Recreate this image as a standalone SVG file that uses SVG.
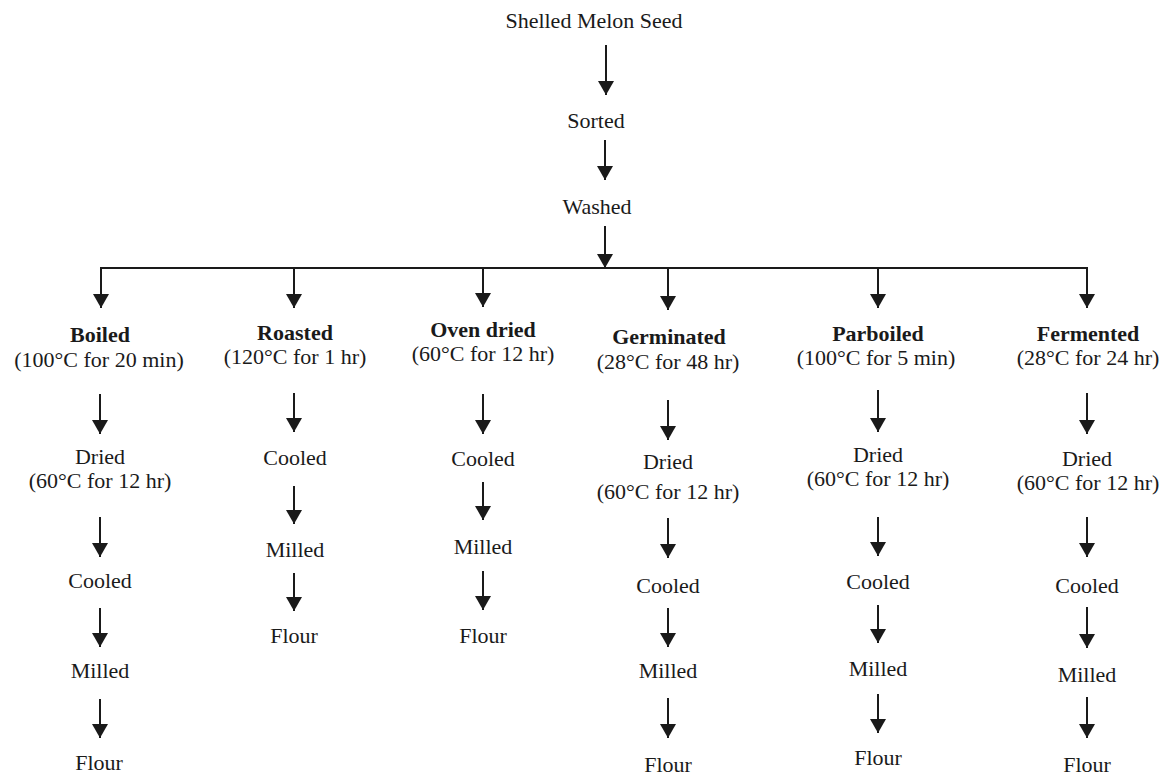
<svg xmlns="http://www.w3.org/2000/svg" width="1167" height="775" viewBox="0 0 1167 775">
<style>
text{font-family:"Liberation Serif","Times New Roman",serif;font-size:22px;fill:#1a1a1a;text-anchor:middle}
.b{font-weight:bold}
.c{stroke:#1a1a1a;stroke-width:2;fill:none}
</style>
<defs>
<marker id="ah" viewBox="0 0 14 16" refX="14" refY="8" markerWidth="14" markerHeight="16" markerUnits="userSpaceOnUse" orient="auto">
<path d="M0,0 L14,8 L0,16 z" fill="#1a1a1a"/>
</marker>
</defs>
<rect width="1167" height="775" fill="#fff"/>
<g id="connectors">
<line class="c" x1="606" y1="45" x2="606" y2="95" marker-end="url(#ah)"/>
<line class="c" x1="605" y1="140" x2="605" y2="180" marker-end="url(#ah)"/>
<line class="c" x1="605" y1="226" x2="605" y2="268" marker-end="url(#ah)"/>
<line class="c" x1="100" y1="268" x2="1088" y2="268"/>
<line class="c" x1="101" y1="268" x2="101" y2="308" marker-end="url(#ah)"/>
<line class="c" x1="294" y1="268" x2="294" y2="308" marker-end="url(#ah)"/>
<line class="c" x1="483" y1="268" x2="483" y2="307" marker-end="url(#ah)"/>
<line class="c" x1="668" y1="268" x2="668" y2="310" marker-end="url(#ah)"/>
<line class="c" x1="878" y1="268" x2="878" y2="308" marker-end="url(#ah)"/>
<line class="c" x1="1087" y1="268" x2="1087" y2="308" marker-end="url(#ah)"/>
<!-- Boiled column -->
<line class="c" x1="100" y1="394" x2="100" y2="434" marker-end="url(#ah)"/>
<line class="c" x1="100" y1="517" x2="100" y2="557" marker-end="url(#ah)"/>
<line class="c" x1="100" y1="608" x2="100" y2="647" marker-end="url(#ah)"/>
<line class="c" x1="100" y1="699" x2="100" y2="738" marker-end="url(#ah)"/>
<!-- Roasted column -->
<line class="c" x1="294" y1="393" x2="294" y2="432" marker-end="url(#ah)"/>
<line class="c" x1="294" y1="486" x2="294" y2="524" marker-end="url(#ah)"/>
<line class="c" x1="294" y1="573" x2="294" y2="611" marker-end="url(#ah)"/>
<!-- Oven dried column -->
<line class="c" x1="483" y1="394" x2="483" y2="434" marker-end="url(#ah)"/>
<line class="c" x1="483" y1="482" x2="483" y2="520" marker-end="url(#ah)"/>
<line class="c" x1="483" y1="571" x2="483" y2="610" marker-end="url(#ah)"/>
<!-- Germinated column -->
<line class="c" x1="668" y1="400" x2="668" y2="440" marker-end="url(#ah)"/>
<line class="c" x1="668" y1="518" x2="668" y2="558" marker-end="url(#ah)"/>
<line class="c" x1="668" y1="608" x2="668" y2="647" marker-end="url(#ah)"/>
<line class="c" x1="668" y1="698" x2="668" y2="738" marker-end="url(#ah)"/>
<!-- Parboiled column -->
<line class="c" x1="878" y1="390" x2="878" y2="432" marker-end="url(#ah)"/>
<line class="c" x1="878" y1="517" x2="878" y2="556" marker-end="url(#ah)"/>
<line class="c" x1="878" y1="605" x2="878" y2="643" marker-end="url(#ah)"/>
<line class="c" x1="878" y1="694" x2="878" y2="733" marker-end="url(#ah)"/>
<!-- Fermented column -->
<line class="c" x1="1087" y1="393" x2="1087" y2="434" marker-end="url(#ah)"/>
<line class="c" x1="1087" y1="517" x2="1087" y2="557" marker-end="url(#ah)"/>
<line class="c" x1="1087" y1="607" x2="1087" y2="648" marker-end="url(#ah)"/>
<line class="c" x1="1087" y1="697" x2="1087" y2="738" marker-end="url(#ah)"/>
</g>
<g id="n-shelled"><text x="594" y="28">Shelled Melon Seed</text></g>
<g id="n-sorted"><text x="596" y="128">Sorted</text></g>
<g id="n-washed"><text x="597" y="214">Washed</text></g>

<g id="n-boiled"><text class="b" x="100" y="342">Boiled</text><text x="99" y="367">(100°C for 20 min)</text></g>
<g id="n-boiled-dried"><text x="100" y="464">Dried</text><text x="100" y="488">(60°C for 12 hr)</text></g>
<g id="n-boiled-cooled"><text x="100" y="588">Cooled</text></g>
<g id="n-boiled-milled"><text x="100" y="678">Milled</text></g>
<g id="n-boiled-flour"><text x="99" y="770">Flour</text></g>

<g id="n-roasted"><text class="b" x="295" y="340">Roasted</text><text x="295" y="364">(120°C for 1 hr)</text></g>
<g id="n-roasted-cooled"><text x="295" y="465">Cooled</text></g>
<g id="n-roasted-milled"><text x="295" y="557">Milled</text></g>
<g id="n-roasted-flour"><text x="294" y="643">Flour</text></g>

<g id="n-oven"><text class="b" x="483" y="337">Oven dried</text><text x="483" y="361">(60°C for 12 hr)</text></g>
<g id="n-oven-cooled"><text x="483" y="466">Cooled</text></g>
<g id="n-oven-milled"><text x="483" y="554">Milled</text></g>
<g id="n-oven-flour"><text x="483" y="643">Flour</text></g>

<g id="n-germinated"><text class="b" x="669" y="344">Germinated</text><text x="668" y="369">(28°C for 48 hr)</text></g>
<g id="n-germ-dried"><text x="668" y="469">Dried</text><text x="668" y="499">(60°C for 12 hr)</text></g>
<g id="n-germ-cooled"><text x="668" y="593">Cooled</text></g>
<g id="n-germ-milled"><text x="668" y="678">Milled</text></g>
<g id="n-germ-flour"><text x="668" y="772">Flour</text></g>

<g id="n-parboiled"><text class="b" x="878" y="341">Parboiled</text><text x="876" y="365">(100°C for 5 min)</text></g>
<g id="n-par-dried"><text x="878" y="462">Dried</text><text x="878" y="486">(60°C for 12 hr)</text></g>
<g id="n-par-cooled"><text x="878" y="589">Cooled</text></g>
<g id="n-par-milled"><text x="878" y="676">Milled</text></g>
<g id="n-par-flour"><text x="878" y="765">Flour</text></g>

<g id="n-fermented"><text class="b" x="1088" y="341">Fermented</text><text x="1088" y="365">(28°C for 24 hr)</text></g>
<g id="n-ferm-dried"><text x="1087" y="466">Dried</text><text x="1088" y="490">(60°C for 12 hr)</text></g>
<g id="n-ferm-cooled"><text x="1087" y="593">Cooled</text></g>
<g id="n-ferm-milled"><text x="1087" y="682">Milled</text></g>
<g id="n-ferm-flour"><text x="1087" y="772">Flour</text></g>
</svg>
